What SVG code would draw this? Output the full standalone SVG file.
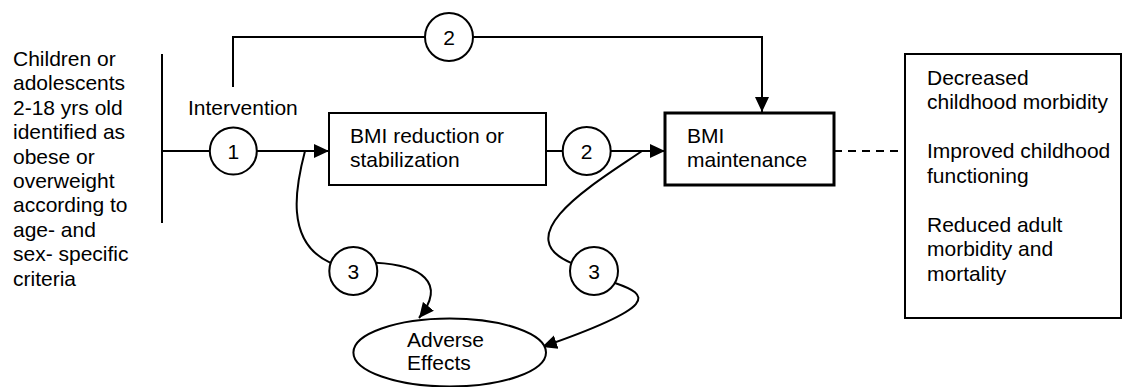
<svg xmlns="http://www.w3.org/2000/svg" width="1123" height="387" viewBox="0 0 1123 387">
<style>
text{font-family:"Liberation Sans",Arial,sans-serif;font-size:21px;fill:#000}
.ln{fill:none;stroke:#000;stroke-width:2}
.box{fill:#fff;stroke:#000;stroke-width:2}
.num{text-anchor:middle}
</style>
<defs>
<marker id="ah" markerUnits="userSpaceOnUse" markerWidth="16" markerHeight="16" viewBox="0 0 16 16" refX="15" refY="8" orient="auto">
<path d="M0,1 L15,8 L0,15 Z" fill="#000"/>
</marker>
</defs>
<g id="population">
<text x="13" y="66">Children or</text>
<text x="13" y="90.4">adolescents</text>
<text x="13" y="114.8">2-18 yrs old</text>
<text x="13" y="139.2">identified as</text>
<text x="13" y="163.6">obese or</text>
<text x="13" y="188">overweight</text>
<text x="13" y="212.4">according to</text>
<text x="13" y="236.8">age- and</text>
<text x="13" y="261.2">sex- specific</text>
<text x="13" y="285.6">criteria</text>
</g>
<g id="connectors">
<line class="ln" x1="162" y1="54" x2="162" y2="223"/>
<line class="ln" x1="162" y1="151" x2="209.5" y2="151"/>
<line class="ln" x1="257" y1="151" x2="329" y2="151" marker-end="url(#ah)"/>
<polyline class="ln" points="233,87 233,37 425,37"/>
<polyline class="ln" points="473,37 762,37 762,112" marker-end="url(#ah)"/>
<line class="ln" x1="546" y1="151" x2="563" y2="151"/>
<line class="ln" x1="610.5" y1="151" x2="665" y2="151" marker-end="url(#ah)"/>
<line x1="834" y1="151" x2="905" y2="151" stroke="#000" stroke-width="2" stroke-dasharray="8,6"/>
<path class="ln" d="M305,151 C296,185 284,242 330.5,262.8"/>
<path class="ln" d="M375.5,262.8 C420,265 448,282 419,318" marker-end="url(#ah)"/>
<path class="ln" d="M642,151 C600,180 505,235 571,262.8"/>
<path class="ln" d="M615,283 C650,295 660,306 542,347" marker-end="url(#ah)"/>
</g>
<g id="intervention-label">
<text x="188" y="115">Intervention</text>
</g>
<g id="kq1">
<circle class="box" cx="233.3" cy="151" r="23.5"/>
<text class="num" x="233.3" y="158.5">1</text>
</g>
<g id="kq2-top">
<circle class="box" cx="449" cy="37" r="24"/>
<text class="num" x="449" y="44.5">2</text>
</g>
<g id="kq2-mid">
<circle class="box" cx="586.7" cy="151" r="24"/>
<text class="num" x="586.7" y="158.5">2</text>
</g>
<g id="kq3-left">
<circle class="box" cx="353.3" cy="271" r="24"/>
<text class="num" x="353.3" y="278.5">3</text>
</g>
<g id="kq3-right">
<circle class="box" cx="594" cy="271" r="24"/>
<text class="num" x="594" y="278.5">3</text>
</g>
<g id="bmi-reduction">
<rect class="box" x="329" y="113" width="217" height="72"/>
<text x="350" y="143">BMI reduction or</text>
<text x="350" y="167">stabilization</text>
</g>
<g id="bmi-maintenance">
<rect x="665" y="113" width="169" height="72" fill="#fff" stroke="#000" stroke-width="3"/>
<text x="687" y="143">BMI</text>
<text x="687" y="167">maintenance</text>
</g>
<g id="outcomes">
<rect class="box" x="905" y="54" width="216" height="264"/>
<text x="927" y="84.5">Decreased</text>
<text x="927" y="109">childhood morbidity</text>
<text x="927" y="158">Improved childhood</text>
<text x="927" y="182.5">functioning</text>
<text x="927" y="231.5">Reduced adult</text>
<text x="927" y="256">morbidity and</text>
<text x="927" y="280.5">mortality</text>
</g>
<g id="adverse-effects">
<ellipse class="box" cx="449.7" cy="352.5" rx="96.3" ry="34"/>
<text x="407" y="347">Adverse</text>
<text x="407" y="369.5">Effects</text>
</g>
</svg>
